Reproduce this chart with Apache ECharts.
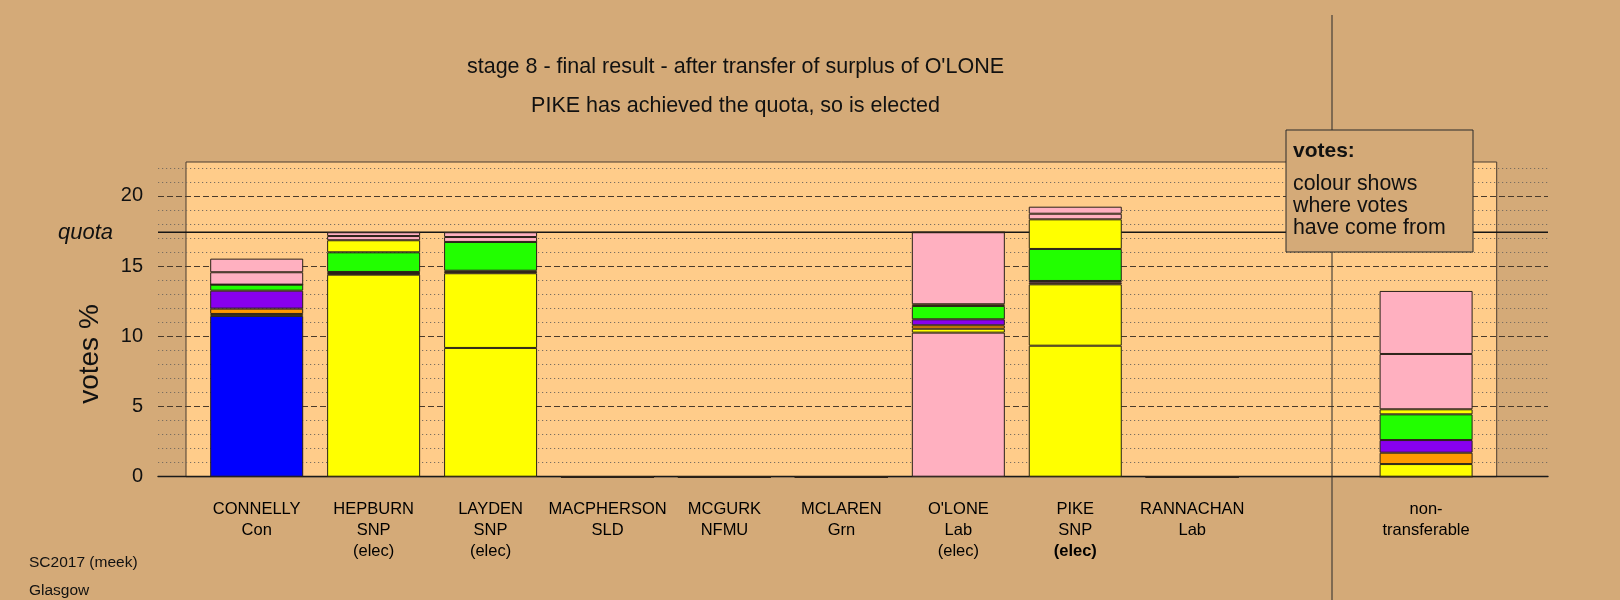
<!DOCTYPE html>
<html><head><meta charset="utf-8">
<script src="https://cdn.jsdelivr.net/npm/echarts@6/dist/echarts.min.js"></script>
<style>html,body{margin:0;padding:0;background:#D4AA78;}#c{width:1620px;height:600px;}</style>
</head><body><div id="c"></div>
<script>
// ---- data ----
const candidates = ['CONNELLY','HEPBURN','LAYDEN','MACPHERSON','MCGURK','MCLAREN',"O'LONE",'PIKE','RANNACHAN','','non-'];
const parties    = ['Con','SNP','SNP','SLD','NFMU','Grn','Lab','SNP','Lab','','transferable'];
const elected    = [false,true,true,false,false,false,true,true,false,false,false];
const electedThisStage = 'PIKE';
const quota = 17.41;
const yTicks = [0,5,10,15,20];
// stage layers (votes %), bottom to top
const stage1 = [11.45,14.39, 9.17,0,0,0,10.26, 9.33,0,'-',0];   // first preferences
const stage2 = [ 0.14, 0.06, 5.32,0,0,0, 0.28, 4.37,0,'-',0.90];
const stage3 = [ 0.38, 0.06, 0.10,0,0,0, 0.24, 0.12,0,'-',0.81];
const stage4 = [ 1.28, 0.07, 0.08,0,0,0, 0.43, 0.12,0,'-',0.90];
const stage5 = [ 0.43, 1.40, 2.05,0,0,0, 0.95, 2.28,0,'-',1.83];
const stage6 = [ 0.00, 0.86, 0.00,0,0,0, 0.12, 2.11,0,'-',0.36];
const stage7 = [ 0.88, 0.30, 0.35,0,0,0, 5.13, 0.40,0,'-',3.94];
const stage8 = [ 0.97, 0.27, 0.34,0,0,0, 0.00, 0.50,0,'-',4.49];
const stages = [stage1,stage2,stage3,stage4,stage5,stage6,stage7,stage8];
const stageFrom = [null,'SNP','SLD','NFMU','Grn','SNP','Lab','Lab'];
const partyColour = {Con:'#0000FF',SNP:'#FFFF00',SLD:'#FF9900',NFMU:'#8800EE',Grn:'#22FF00',Lab:'#FFB0C0'};

// ---- style ----
const BG = '#D4AA78', BOX = '#FFCC8A';
const FONT = '"Liberation Sans", Arial, sans-serif';
const Y_MAX = 22;

const barSeries = stages.map((arr, si) => ({
  type: 'bar', stack: 'votes', xAxisIndex: 2, yAxisIndex: 3, barWidth: 93, z: 2,
  silent: true,
  itemStyle: {borderColor: '#2a2218', borderWidth: 1},
  data: arr.map((v, i) => ({
    value: v,
    itemStyle: {color: partyColour[si === 0 ? parties[i] : stageFrom[si]] || '#FFFFFF'}
  }))
}));

const minorColors = ['rgba(0,0,0,0)','#7a6e60','#7a6e60','#7a6e60','#7a6e60'];

const option = {
  animation: false,
  backgroundColor: BG,
  textStyle: {fontFamily: FONT},
  grid: [
    {left: 186, right: 123.3, top: 162, bottom: 123.3, show: true, backgroundColor: BOX, borderColor: '#4a3d30', borderWidth: 1},
    {left: 158, right: 72, top: 167.8, bottom: 123.3},
    {left: 198.23, right: 135.43, top: 167.8, bottom: 123.3}
  ],
  xAxis: [
    {gridIndex: 0, type: 'value', show: false, min: 0, max: 1},
    {gridIndex: 1, type: 'value', min: 0, max: 1, axisLine: {show: true, onZero: false, lineStyle: {color: '#1a1a1a', width: 1.4}},
      axisTick: {show: false}, axisLabel: {show: false}, splitLine: {show: false}},
    {gridIndex: 2, type: 'category', data: candidates, axisLine: {show: false}, axisTick: {show: false}, splitLine: {show: false},
      axisLabel: {interval: 0, margin: 22, color: '#000',
        formatter: (v, i) => {
          let s = '{n|' + v + '}\n{n|' + parties[i] + '}';
          if (elected[i]) s += '\n' + (v === electedThisStage ? '{b|(elec)}' : '{n|(elec)}');
          return s;
        },
        rich: {
          n: {fontSize: 16.5, lineHeight: 21, fontFamily: FONT, color: '#000'},
          b: {fontSize: 16.5, lineHeight: 21, fontFamily: FONT, fontWeight: 'bold', color: '#000'}
        }}}
  ],
  yAxis: [
    {gridIndex: 0, type: 'value', show: false, min: 0, max: 1},
    {gridIndex: 1, type: 'value', position: 'left', min: 0, max: Y_MAX, interval: 1,
      axisLine: {show: false}, axisTick: {show: false}, axisLabel: {show: false},
      splitLine: {show: true, lineStyle: {color: minorColors, type: [1.2, 2.8], width: 1}}},
    {gridIndex: 1, type: 'value', position: 'left', min: 0, max: Y_MAX, interval: 5,
      axisLine: {show: false}, axisTick: {show: false},
      axisLabel: {fontSize: 20, color: '#111', margin: 15, showMaxLabel: false, fontFamily: FONT,
        formatter: v => (yTicks.indexOf(v) >= 0 ? String(v) : '')},
      splitLine: {show: true, showMaxLine: false, lineStyle: {color: '#4a3b2c', type: [6, 3], width: 1}}},
    {gridIndex: 2, type: 'value', show: false, min: 0, max: Y_MAX}
  ],
  series: [
    {type: 'line', xAxisIndex: 1, yAxisIndex: 1, z: 1, silent: true, symbol: 'none',
      lineStyle: {color: '#151515', width: 1.3}, data: [[0, quota], [1, quota]]},
    ...barSeries
  ],
  graphic: [
    {type: 'text', x: 735.5, y: 67, z: 10, style: {text: "stage 8 - final result - after transfer of surplus of O'LONE", font: '21.5px ' + FONT, fill: '#111', align: 'center', verticalAlign: 'middle'}},
    {type: 'text', x: 735.5, y: 106.5, z: 10, style: {text: 'PIKE has achieved the quota, so is elected', font: '21.5px ' + FONT, fill: '#111', align: 'center', verticalAlign: 'middle'}},
    {type: 'text', x: 113, y: 233, z: 10, style: {text: 'quota', font: 'italic 22px ' + FONT, fill: '#111', align: 'right', verticalAlign: 'middle'}},
    {type: 'text', x: 90, y: 354, z: 10, rotation: Math.PI / 2, style: {text: 'votes %', font: '28px ' + FONT, fill: '#111', align: 'center', verticalAlign: 'middle'}},
    {type: 'text', x: 29, y: 563, z: 10, style: {text: 'SC2017 (meek)', font: '15.5px ' + FONT, fill: '#111', align: 'left', verticalAlign: 'middle'}},
    {type: 'text', x: 29, y: 591, z: 10, style: {text: 'Glasgow', font: '15.5px ' + FONT, fill: '#111', align: 'left', verticalAlign: 'middle'}},
    {type: 'line', z: 5, silent: true, shape: {x1: 1332, y1: 15, x2: 1332, y2: 600}, style: {stroke: '#2a2a2a', lineWidth: 1}},
    {type: 'rect', z: 20, shape: {x: 1286, y: 130, width: 187, height: 122}, style: {fill: BG, stroke: '#2a2a2a', lineWidth: 1}},
    {type: 'text', z: 21, x: 1293, y: 151.5, style: {text: 'votes:', font: 'bold 21px ' + FONT, fill: '#111', align: 'left', verticalAlign: 'middle'}},
    {type: 'text', z: 21, x: 1293, y: 173.5, style: {text: 'colour shows\nwhere votes\nhave come from', font: '21.3px ' + FONT, lineHeight: 22, fill: '#111', align: 'left', verticalAlign: 'top'}}
  ]
};

const chart = echarts.init(document.getElementById('c'), null, {renderer: 'canvas'});
chart.setOption(option);
</script></body></html>
